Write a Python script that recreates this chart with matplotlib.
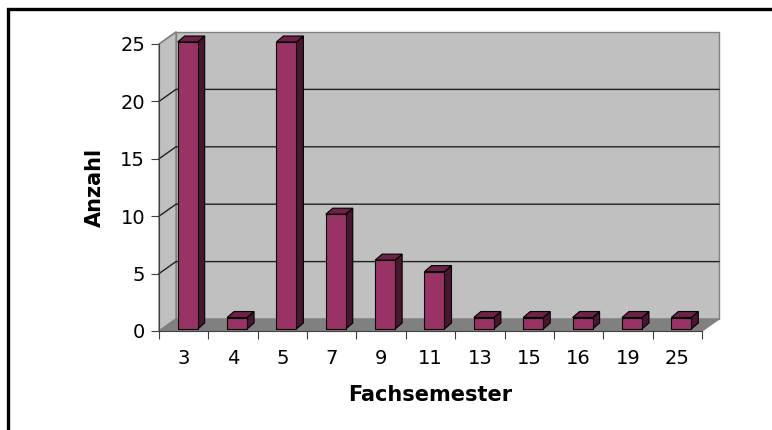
import matplotlib
matplotlib.use("Agg")
import matplotlib.pyplot as plt
from matplotlib.patches import Polygon, Rectangle
from matplotlib.lines import Line2D

# Data: number of students per semester of study
semester = ["3", "4", "5", "7", "9", "11", "13", "15", "16", "19", "25"]
anzahl = [25, 1, 25, 10, 6, 5, 1, 1, 1, 1, 1]
y_ticks = [0, 5, 10, 15, 20, 25]

W, H = 772, 430
fig = plt.figure(figsize=(W / 100, H / 100), dpi=100)
fig.patch.set_facecolor("white")

# outer frame (left and top edges visible)
fig.add_artist(Rectangle((8 / W, -0.05), 1.1, 1 - 9 / H + 0.05,
                         transform=fig.transFigure, fill=False,
                         edgecolor="black", linewidth=2.4))

# front plane of the plot area, in pixels
left, right, top, bottom = 159, 702, 44, 331
ax = fig.add_axes([left / W, 1 - bottom / H, (right - left) / W, (bottom - top) / H])
n = len(semester)
ymax = 25
ax.set_xlim(0, n)
ax.set_ylim(0, ymax)
ax.set_facecolor("none")

# pixel -> data unit helpers
ux = n / (right - left)
uy = ymax / (bottom - top)

# depth of the walls
dx, dy = 17 * ux, 12 * uy

wall = "#c0c0c0"
floor = "#808080"
edge = "#808080"

# back wall
ax.add_patch(Rectangle((dx, dy), n, ymax, facecolor=wall, edgecolor=edge,
                       linewidth=1.0, zorder=1, clip_on=False))
# side wall
ax.add_patch(Polygon([(0, 0), (dx, dy), (dx, ymax + dy), (0, ymax)], closed=True,
                     facecolor=wall, edgecolor=edge, linewidth=1.0, zorder=1, clip_on=False))
# floor
ax.add_patch(Polygon([(0, 0), (n, 0), (n + dx, dy), (dx, dy)], closed=True,
                     facecolor=floor, edgecolor=floor, linewidth=1.0, zorder=2, clip_on=False))

# gridlines on side and back walls
for yv in y_ticks[1:-1]:
    ax.add_line(Line2D([0, dx, n + dx], [yv, yv + dy, yv + dy], color="#202020",
                       linewidth=1.0, zorder=3, clip_on=False))
ax.add_line(Line2D([0, dx], [ymax, ymax + dy], color=edge, linewidth=1.0,
                   zorder=3, clip_on=False))

# 3D columns
bw = 20 * ux            # front face width
ox, oy = 4 * ux, 2 * uy  # front face offset into the depth
bdx, bdy = 7 * ux, 6 * uy  # column depth
front_c = "#993366"
side_c = "#4a1530"
top_c = "#6e2249"
for i, v in enumerate(anzahl):
    x0 = i + 0.5 - bw / 2 + ox
    y0 = oy
    x1 = x0 + bw
    y1 = y0 + v
    ax.add_patch(Polygon([(x1, y0), (x1 + bdx, y0 + bdy), (x1 + bdx, y1 + bdy), (x1, y1)],
                         closed=True, facecolor=side_c, edgecolor="black",
                         linewidth=0.8, zorder=5, clip_on=False))
    ax.add_patch(Polygon([(x0, y1), (x1, y1), (x1 + bdx, y1 + bdy), (x0 + bdx, y1 + bdy)],
                         closed=True, facecolor=top_c, edgecolor="black",
                         linewidth=0.8, zorder=5, clip_on=False))
    ax.add_patch(Rectangle((x0, y0), bw, v, facecolor=front_c, edgecolor="black",
                           linewidth=0.8, zorder=6, clip_on=False))

# axes
for s in ["top", "right"]:
    ax.spines[s].set_visible(False)
ax.spines["left"].set_color("#404040")
ax.spines["bottom"].set_color("#404040")
ax.spines["left"].set_zorder(7)
ax.spines["bottom"].set_zorder(7)

ax.set_yticks(y_ticks)
ax.set_yticklabels([str(t) for t in y_ticks])
ax.set_xticks(range(n + 1))
ax.set_xticklabels([""] * (n + 1))
ax.set_xticks([i + 0.5 for i in range(n)], minor=True)
ax.set_xticklabels(semester, minor=True)
ax.tick_params(axis="x", which="major", direction="out", length=6, color="#404040")
ax.tick_params(axis="x", which="minor", length=0, pad=13, labelsize=14)
ax.tick_params(axis="y", direction="out", length=6, color="#404040", pad=4, labelsize=14)

ax.set_xlabel("Fachsemester", fontsize=15, fontweight="bold", labelpad=12)
ax.set_ylabel("Anzahl", fontsize=15, fontweight="bold", labelpad=11)

fig.savefig("out.png", dpi=100)
